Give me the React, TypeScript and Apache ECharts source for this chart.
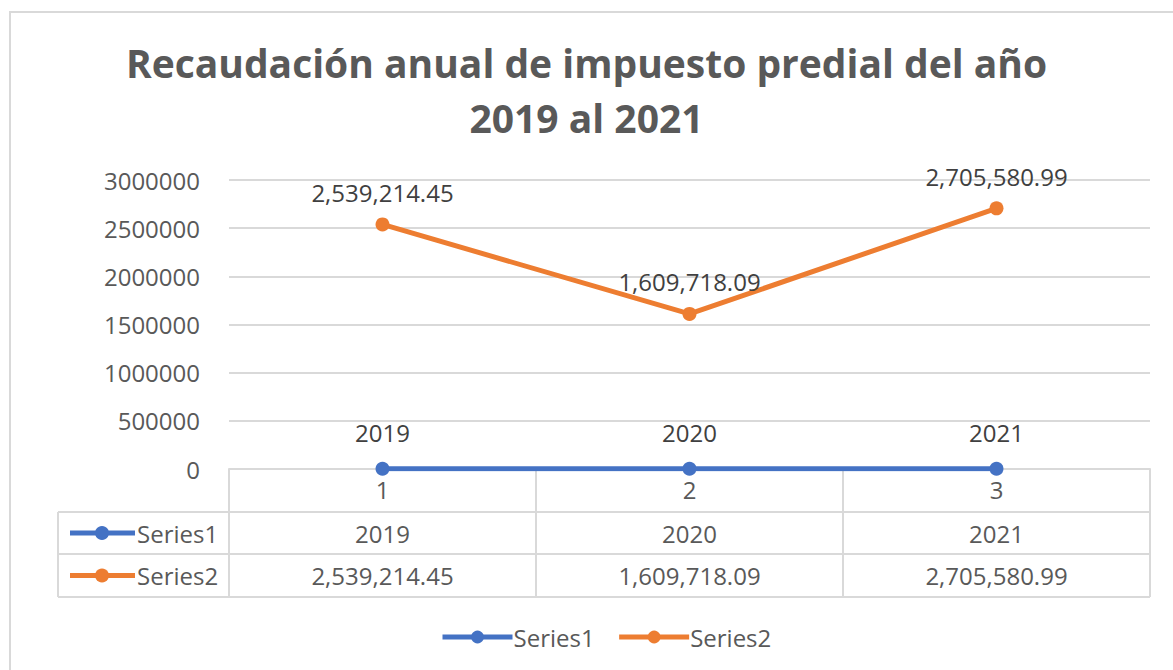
import React, { useEffect, useRef } from "react";
import * as echarts from "echarts";

const categories = ["1", "2", "3"];
const series1 = [2019, 2020, 2021];
const series2 = [2539214.45, 1609718.09, 2705580.99];
const yTicks = { min: 0, max: 3000000, interval: 500000 };
const seriesNames = ["Series1", "Series2"];
const titleText = "Recaudación anual de impuesto predial del año\n2019 al 2021";

const BLUE = "#4472C4";
const ORANGE = "#ED7D31";
const GRAY = "#D9D9D9";
const TEXT = "#595959";
const FONT = "Open Sans";

const fmt2 = (v: number) =>
  v.toLocaleString("en-US", { minimumFractionDigits: 2, maximumFractionDigits: 2 });

export default function App() {
  const ref = useRef<HTMLDivElement>(null);
  useEffect(() => {
    if (!ref.current) return;
    const chart = echarts.init(ref.current, undefined, { renderer: "svg" });
    const gridLeft = 229;
    const gridRight = 23;
    const gridTop = 180;
    const gridBottom = 201;
    const axisY = 670 - gridBottom;
    const row1 = 512;
    const row2 = 554;
    const row3 = 597;
    const tableLeft = 58;
    const tableRight = 1173 - gridRight;

    const keyRow = (color: string, name: string, cy: number) => [
      { type: "line", shape: { x1: 70, y1: cy, x2: 135, y2: cy }, style: { stroke: color, lineWidth: 5 } },
      { type: "circle", shape: { cx: 102, cy, r: 7 }, style: { fill: color } },
      {
        type: "text",
        x: 137,
        y: cy,
        style: { text: name, fill: TEXT, font: `24px '${FONT}'`, textVerticalAlign: "middle", textAlign: "left" },
      },
    ];

    chart.setOption({
      animation: false,
      textStyle: { fontFamily: FONT },
      title: {
        text: titleText,
        left: "center",
        top: 30,
        textStyle: { fontSize: 39, fontWeight: "bold", color: TEXT, lineHeight: 55, fontFamily: FONT },
      },
      grid: { left: gridLeft, right: gridRight, top: gridTop, bottom: gridBottom, containLabel: false },
      legend: {
        left: 435,
        top: 620,
        itemWidth: 70,
        itemHeight: 16,
        itemGap: 22,
        lineStyle: { width: 5 },
        textStyle: { fontSize: 24, color: TEXT, fontFamily: FONT, padding: [0, 0, 0, -4] },
        data: seriesNames,
      },
      xAxis: [
        {
          type: "category",
          data: categories,
          boundaryGap: true,
          axisLine: { show: true, lineStyle: { color: GRAY, width: 2 } },
          axisTick: { show: true, length: row3 - axisY, lineStyle: { color: GRAY, width: 2 } },
          axisLabel: { color: TEXT, fontSize: 24, margin: 8, lineHeight: 24 },
        },
        {
          type: "category",
          data: series1.map((v) => String(v)),
          position: "bottom",
          axisLine: { show: false },
          axisTick: { show: false },
          axisLabel: { color: TEXT, fontSize: 24, margin: 52, lineHeight: 24 },
        },
        {
          type: "category",
          data: series2.map(fmt2),
          position: "bottom",
          axisLine: { show: false },
          axisTick: { show: false },
          axisLabel: { color: TEXT, fontSize: 24, margin: 94, lineHeight: 24 },
        },
      ],
      yAxis: {
        type: "value",
        min: yTicks.min,
        max: yTicks.max,
        interval: yTicks.interval,
        axisLine: { show: false },
        axisTick: { show: false },
        splitLine: { lineStyle: { color: GRAY, width: 2 } },
        axisLabel: { color: TEXT, fontSize: 24, margin: 29, formatter: (v: number) => String(v) },
      },
      series: [
        {
          name: seriesNames[0],
          type: "line",
          data: series1,
          symbol: "circle",
          symbolSize: 14,
          itemStyle: { color: BLUE },
          lineStyle: { color: BLUE, width: 5 },
          label: { show: true, position: "top", distance: 17, color: "#404040", fontSize: 24 },
          z: 3,
        },
        {
          name: seriesNames[1],
          type: "line",
          data: series2,
          symbol: "circle",
          symbolSize: 14,
          itemStyle: { color: ORANGE },
          lineStyle: { color: ORANGE, width: 5 },
          label: {
            show: true,
            position: "top",
            distance: 13,
            color: "#404040",
            fontSize: 24,
            formatter: (p: any) => fmt2(p.value),
          },
          z: 3,
        },
      ],
      graphic: [
        {
          type: "rect",
          shape: { x: 10, y: 12, width: 1300, height: 800 },
          style: { fill: "none", stroke: GRAY, lineWidth: 2 },
          silent: true,
        },
        ...[row1, row2, row3].map((y) => ({
          type: "line",
          shape: { x1: tableLeft, y1: y, x2: tableRight, y2: y },
          style: { stroke: GRAY, lineWidth: 2 },
        })),
        {
          type: "line",
          shape: { x1: tableLeft, y1: row1, x2: tableLeft, y2: row3 },
          style: { stroke: GRAY, lineWidth: 2 },
        },
        ...keyRow(BLUE, seriesNames[0], (row1 + row2) / 2),
        ...keyRow(ORANGE, seriesNames[1], (row2 + row3) / 2),
      ],
    });
    return () => chart.dispose();
  }, []);
  return <div ref={ref} style={{ position: "fixed", left: 0, top: 0, width: 1173, height: 670, background: "#fff" }} />;
}
